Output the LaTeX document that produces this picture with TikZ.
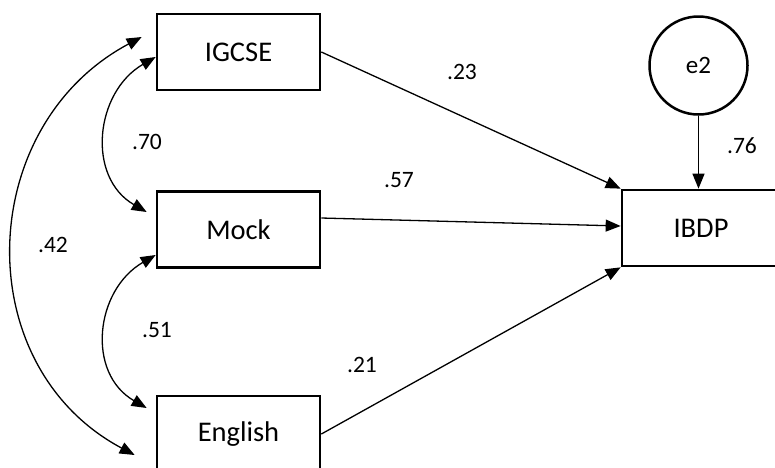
\documentclass[tikz,border=0pt]{standalone}
\usepackage{fontspec}
\setmainfont{Carlito}
\usetikzlibrary{arrows.meta}
\begin{document}
\begin{tikzpicture}[x=1pt,y=-1pt,
  var/.style={draw,line width=2.7pt,minimum width=163pt,minimum height=76pt,inner sep=0pt,font=\fontsize{28.5}{34}\selectfont},
  err/.style={draw,circle,line width=2.5pt,minimum size=98pt,inner sep=0pt,font=\fontsize{25}{30}\selectfont},
  lab/.style={inner sep=0pt,font=\fontsize{23.5}{28}\selectfont},
  path/.style={line width=1.3pt,-{Triangle[length=15pt,width=12pt]}},
  cov/.style={line width=1.3pt,{Triangle[length=15pt,width=12pt]}-{Triangle[length=15pt,width=12pt]}}]
\useasboundingbox (0,0) rectangle (775,467);
\begin{scope}
\clip (0,0) rectangle (775,467);
\node[var] (IG) at (238.5,52) {IGCSE};
\node[var] (MK) at (238.5,229.5) {Mock};
\node[var] (EN) at (238.5,434) {English};
\node[var,minimum width=158pt] (IB) at (701,228) {IBDP};
\node[err] (E2) at (698.5,65.5) {e2};
\end{scope}
\draw[path] (IG.east) -- (IB.north west);
\draw[path] ([yshift=11.5pt]MK.east) -- ([yshift=2pt]IB.west);
\draw[path] (EN.east) -- (IB.south west);
\draw[path] (E2.south) -- (E2.south |- IB.north);
\draw[cov] ([yshift=-5pt]IG.west) .. controls +(-60.6,35) and +(-60.6,-35) .. ([xshift=-9pt,yshift=17.5pt]MK.west);
\draw[cov] ([yshift=-25.5pt]MK.west) .. controls +(-60.6,35) and +(-60.6,-35) .. ([xshift=-9pt,yshift=26pt]EN.west);
\draw[cov] ([xshift=-14pt,yshift=15pt]IG.west) .. controls +(-167,89) and +(-167,-89) .. ([xshift=-21pt,yshift=-21pt]EN.west);
\node[lab] (l70) at (147,142) {.70};
\node[lab] (l51) at (157,330) {.51};
\node[lab] (l42) at (53,245) {.42};
\node[lab] (l23) at (462,72) {.23};
\node[lab] (l57) at (399,180) {.57};
\node[lab] (l21) at (362,365) {.21};
\node[lab] (l76) at (742,146) {.76};
\end{tikzpicture}
\end{document}
